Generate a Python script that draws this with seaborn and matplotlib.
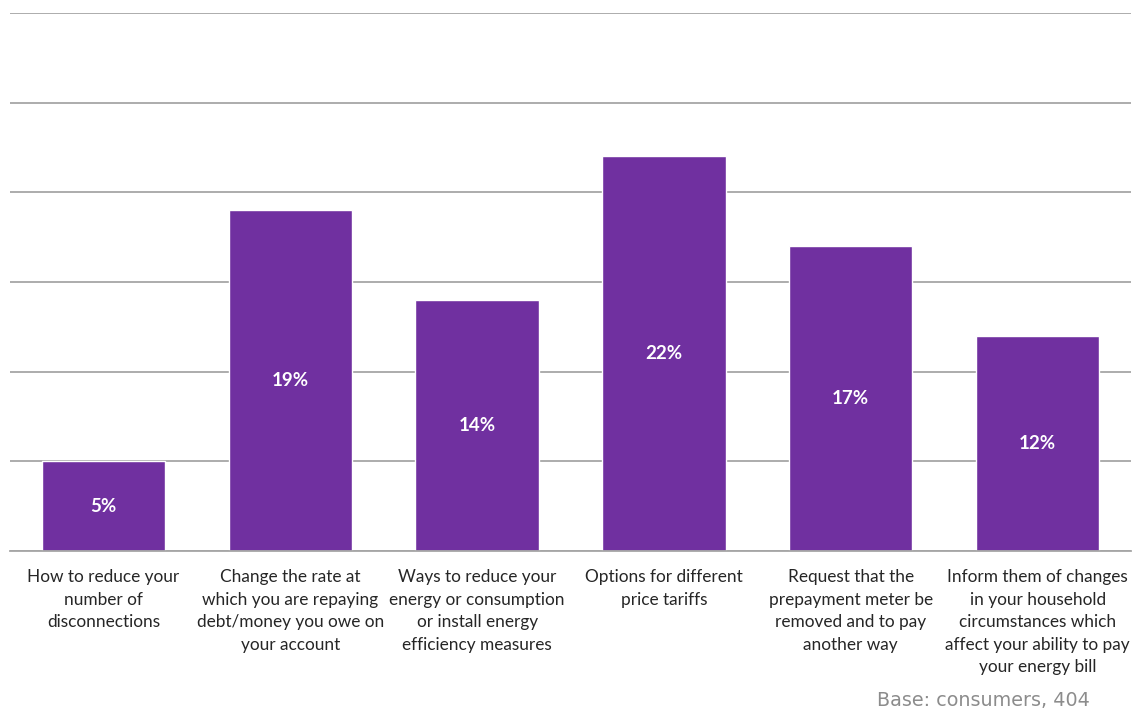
import matplotlib
matplotlib.use("Agg")
import matplotlib.pyplot as plt
from matplotlib.ticker import FixedLocator, MultipleLocator
import seaborn as sns
import pandas as pd

categories = [
    "How to reduce your\nnumber of\ndisconnections",
    "Change the rate at\nwhich you are repaying\ndebt/money you owe on\nyour account",
    "Ways to reduce your\nenergy or consumption\nor install energy\nefficiency measures",
    "Options for different\nprice tariffs",
    "Request that the\nprepayment meter be\nremoved and to pay\nanother way",
    "Inform them of changes\nin your household\ncircumstances which\naffect your ability to pay\nyour energy bill",
]
values = [5, 19, 14, 22, 17, 12]
value_labels = ["5%", "19%", "14%", "22%", "17%", "12%"]
base_note = "Base: consumers, 404"

sns.set_theme(style="white")
plt.rcParams["font.family"] = ["Lato", "DejaVu Sans"]

df = pd.DataFrame({"category": categories, "value": values})

fig = plt.figure(figsize=(11.32, 7.13), dpi=100)
ax = fig.add_axes([10 / 1132, 1 - 551 / 713, 1121 / 1132, (551 - 13) / 713])

sns.barplot(data=df, x="category", y="value", color="#7030A0", saturation=1,
            width=0.66, ax=ax, zorder=3)

ax.set_ylim(0, 30)
ax.set_xlim(-0.5, len(categories) - 0.5)
ax.yaxis.set_major_locator(MultipleLocator(5))
ax.set_yticklabels([])
ax.tick_params(axis="y", length=0)
ax.grid(axis="y", color="#A6A6A6", linewidth=1.3, zorder=0)
ax.set_xlabel("")
ax.set_ylabel("")

for side in ["left", "right", "top"]:
    ax.spines[side].set_visible(False)
ax.spines["bottom"].set_color("#A6A6A6")
ax.spines["bottom"].set_linewidth(1.3)
ax.spines["bottom"].set_zorder(4)

# category labels centred, ticks drawn at the category boundaries
ax.xaxis.set_major_locator(FixedLocator(range(len(categories))))
ax.set_xticklabels(categories, fontsize=12.4, color="#262626", linespacing=1.5,
                   va="top")
ax.tick_params(axis="x", which="major", length=0, pad=13)
ax.xaxis.set_minor_locator(FixedLocator([i - 0.5 for i in range(len(categories) + 1)]))
ax.tick_params(axis="x", which="minor", length=6, width=1.3, color="#A6A6A6",
               direction="out")

for i, (v, lab) in enumerate(zip(values, value_labels)):
    ax.text(i, v / 2, lab, ha="center", va="center", color="white",
            fontsize=13.5, fontweight="bold", zorder=5)

fig.text(1090 / 1132, 1 - 701 / 713, base_note, ha="right", va="center",
         fontsize=13.8, color="#8C8C8C", family=["DejaVu Sans"])

fig.savefig("out.png", dpi=100, facecolor="white")
